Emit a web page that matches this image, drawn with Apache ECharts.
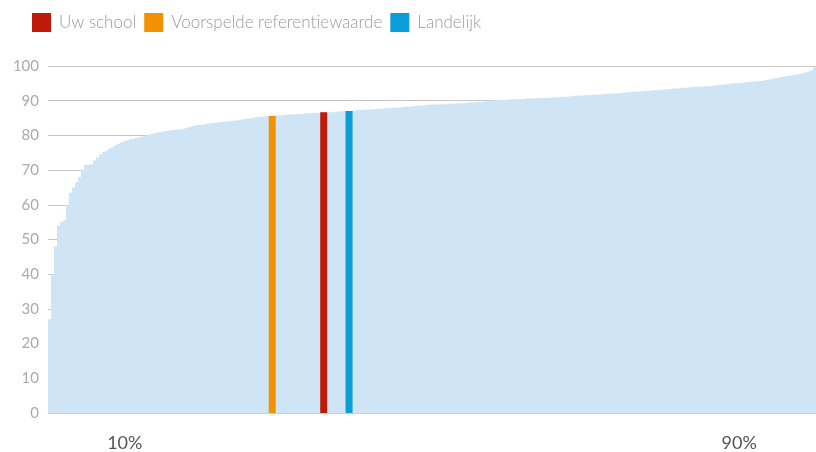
<!DOCTYPE html>
<html>
<head>
<meta charset="utf-8">
<script src="https://cdn.jsdelivr.net/npm/echarts@6/dist/echarts.min.js"></script>
<style>
  html, body { margin: 0; padding: 0; background: #fff; }
  #main { width: 816px; height: 452px; }
</style>
</head>
<body>
<div id="main"></div>
<script>
// verdeling van alle scholen, oplopend gesorteerd
var verdeling = [
  27, 40, 48, 54, 55, 55.5, 60, 63.5, 65, 66.5, 68, 70, 71.5, 71.5, 71.7, 72.8,
  73.7, 74.6, 75.2, 75.6, 76.2, 76.6, 77.1, 77.6, 78, 78.3, 78.6, 78.9, 79.1, 79.3, 79.5, 79.7,
  79.9, 80.1, 80.3, 80.6, 80.8, 81, 81.1, 81.3, 81.4, 81.5, 81.6, 81.7, 81.8, 82, 82.3, 82.5,
  82.7, 82.9, 83, 83.1, 83.3, 83.4, 83.5, 83.6, 83.7, 83.8, 83.9, 84, 84.1, 84.2, 84.3, 84.4,
  84.5, 84.7, 84.8, 84.9, 85, 85.2, 85.3, 85.4, 85.5, 85.5, 85.6, 85.7, 85.8, 85.8, 85.9, 86,
  86, 86.1, 86.1, 86.2, 86.2, 86.3, 86.4, 86.4, 86.5, 86.5, 86.5, 86.6, 86.6, 86.7, 86.7, 86.8,
  86.9, 86.9, 87, 87, 87.1, 87.1, 87.2, 87.3, 87.3, 87.4, 87.5, 87.5, 87.6, 87.6, 87.7, 87.7,
  87.8, 87.8, 87.9, 88, 88, 88.1, 88.2, 88.3, 88.3, 88.4, 88.5, 88.6, 88.6, 88.7, 88.8, 88.8,
  88.9, 88.9, 89, 89, 89, 89.1, 89.1, 89.2, 89.2, 89.3, 89.3, 89.4, 89.5, 89.5, 89.6, 89.7,
  89.7, 89.8, 89.9, 90, 90.1, 90.1, 90.2, 90.2, 90.3, 90.3, 90.4, 90.4, 90.5, 90.5, 90.5, 90.6,
  90.6, 90.7, 90.7, 90.7, 90.8, 90.8, 90.8, 90.9, 90.9, 91, 91, 91.1, 91.1, 91.2, 91.3, 91.4,
  91.4, 91.5, 91.5, 91.6, 91.6, 91.7, 91.7, 91.8, 91.8, 91.9, 91.9, 92, 92.1, 92.1, 92.2, 92.3,
  92.3, 92.4, 92.5, 92.6, 92.6, 92.7, 92.8, 92.9, 92.9, 93, 93, 93.1, 93.2, 93.2, 93.3, 93.4,
  93.5, 93.5, 93.6, 93.7, 93.7, 93.8, 93.9, 94, 94, 94.1, 94.1, 94.2, 94.2, 94.3, 94.4, 94.5,
  94.6, 94.7, 94.8, 94.9, 95, 95, 95.1, 95.2, 95.3, 95.4, 95.5, 95.5, 95.6, 95.7, 95.8, 96,
  96.1, 96.3, 96.5, 96.6, 96.8, 96.9, 97.1, 97.2, 97.4, 97.5, 97.7, 97.9, 98.1, 98.4, 98.8, 99.8
];

// [percentiel, score]
var uwSchool = [35.9, 86.7];
var voorspeld = [29.2, 85.6];
var landelijk = [39.2, 87.0];

var percentielLabels = [10, 90];

var categorieen = verdeling.map(function (v, i) { return i; });

var myChart = echarts.init(document.getElementById('main'));
var fontFam = 'Lato, "Open Sans", sans-serif';

var option = {
    animation: false,
    legend: {
        left: 27,
        top: 8,
        icon: 'rect',
        itemWidth: 19,
        itemHeight: 19,
        itemGap: 8,
        data: ['Uw school', 'Voorspelde referentiewaarde', 'Landelijk'],
        textStyle: { color: '#9b9b9b', fontSize: 17, fontFamily: fontFam, fontWeight: 300, padding: [0, 0, 0, 3] }
    },
    grid: { left: 48, right: 0, top: 66, bottom: 39 },
    xAxis: [{
        // verdeling
        type: 'category',
        data: categorieen,
        show: false
    }, {
        // percentielen
        type: 'value',
        min: 0,
        max: 100,
        position: 'bottom',
        splitLine: { show: false },
        axisTick: { show: false },
        axisLine: { show: true, lineStyle: { color: '#cfcfcf', width: 1 } },
        axisLabel: {
            customValues: percentielLabels,
            formatter: '{value}%',
            color: '#555',
            fontSize: 18,
            fontFamily: fontFam,
            margin: 21
        }
    }],
    yAxis: {
        type: 'value',
        min: 0,
        max: 100,
        interval: 10,
        axisLine: { show: false },
        axisTick: { show: false },
        axisLabel: { color: '#ababab', fontSize: 15, fontFamily: fontFam, margin: 9 },
        splitLine: { lineStyle: { color: '#c6c6c6', width: 1 } }
    },
    series: [
        {
            name: 'Verdeling',
            type: 'bar',
            xAxisIndex: 0,
            data: verdeling,
            barCategoryGap: '0%',
            barWidth: '100%',
            itemStyle: { color: '#cfe5f5' },
            silent: true
        },
        {
            name: 'Voorspelde referentiewaarde',
            type: 'bar',
            xAxisIndex: 1,
            data: [voorspeld],
            barWidth: 7,
            barGap: '-100%',
            itemStyle: { color: '#f39200' },
            z: 3
        },
        {
            name: 'Uw school',
            type: 'bar',
            xAxisIndex: 1,
            data: [uwSchool],
            barWidth: 7,
            barGap: '-100%',
            itemStyle: { color: '#be1a0a' },
            z: 3
        },
        {
            name: 'Landelijk',
            type: 'bar',
            xAxisIndex: 1,
            data: [landelijk],
            barWidth: 7,
            barGap: '-100%',
            itemStyle: { color: '#0a9dd8' },
            z: 3
        }
    ]
};
myChart.setOption(option);
</script>
</body>
</html>
